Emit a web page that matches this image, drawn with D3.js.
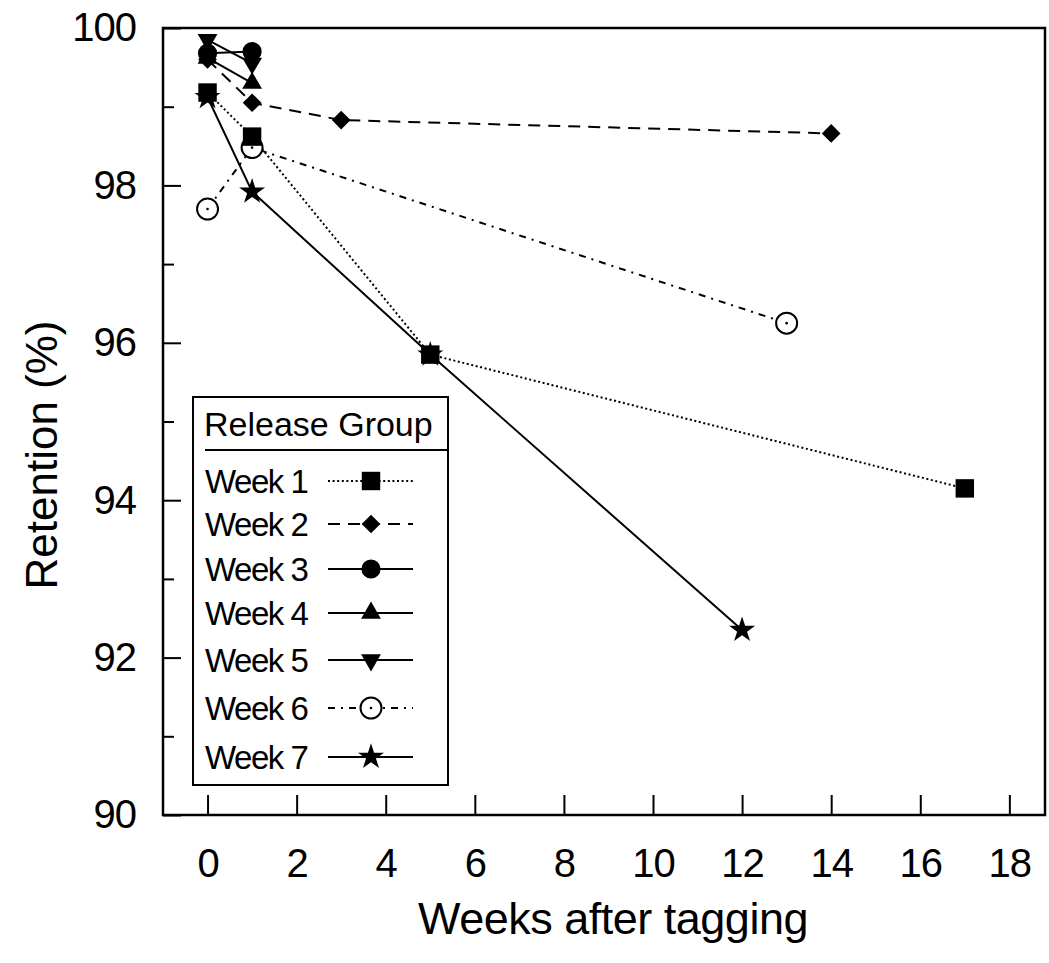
<!DOCTYPE html>
<html>
<head>
<meta charset="utf-8">
<script src="https://cdn.jsdelivr.net/npm/d3@7"></script>
<style>
    body { margin: 0; background: #fff; }
    svg { font-family: "Liberation Sans", Arial, sans-serif; }
</style>
</head>
<body>
<svg id="chart" width="1049" height="963"></svg>
<script>
(function () {

    // Data (weeks after tagging, retention %)
    const groups = ["Week 1", "Week 2", "Week 3", "Week 4", "Week 5", "Week 6", "Week 7"];
    const week1 = [[0, 99.18], [1, 98.62], [5, 95.85], [17, 94.15]];
    const week2 = [[0, 99.6], [1, 99.05], [3, 98.83], [14, 98.66]];
    const week3 = [[0, 99.68], [1, 99.7]];
    const week4 = [[0, 99.62], [1, 99.3]];
    const week5 = [[0, 99.85], [1, 99.55]];
    const week6 = [[0, 97.7], [1, 98.48], [13, 96.25]];
    const week7 = [[0, 99.12], [1, 97.92], [5, 95.85], [12, 92.35]];
    const xTicks = [0, 2, 4, 6, 8, 10, 12, 14, 16, 18];
    const yTicks = [90, 92, 94, 96, 98, 100];
    const yMinor = [91, 93, 95, 97, 99];

    const seriesData = [week1, week2, week3, week4, week5, week6, week7];

    // Line + marker styles per group
    const styles = [
        { dash: "2,2.6", symbol: "square" },
        { dash: "12,8", symbol: "diamond" },
        { dash: null, symbol: "circle" },
        { dash: null, symbol: "triangle" },
        { dash: null, symbol: "down" },
        { dash: "7,6,2,6", symbol: "open" },
        { dash: null, symbol: "star" }
    ];

    const svg = d3.select("#chart");

    const x = d3.scaleLinear().domain([-1, 18.8]).range([163, 1045]);
    const y = d3.scaleLinear().domain([90, 100]).range([815, 28]);

    // Frame
    svg.append("rect")
        .attr("x", x(-1)).attr("y", y(100))
        .attr("width", x(18.8) - x(-1))
        .attr("height", y(90) - y(100))
        .attr("fill", "none")
        .attr("stroke", "#000")
        .attr("stroke-width", 2.5);

    // X axis (ticks pointing inward)
    const xAxis = svg.append("g")
        .attr("transform", "translate(0," + y(90) + ")")
        .call(d3.axisBottom(x).tickValues(xTicks).tickSize(-20).tickPadding(62).tickFormat(d3.format("d")));
    xAxis.select(".domain").remove();
    xAxis.selectAll(".tick line").attr("stroke-width", 2);
    xAxis.selectAll(".tick text")
        .attr("font-size", 40)
        .attr("font-family", "Liberation Sans, Arial, sans-serif")
        .attr("letter-spacing", -1)
        .attr("fill", "#000")
        .attr("dy", "0");

    // Y axis major
    const yAxis = svg.append("g")
        .attr("transform", "translate(" + x(-1) + ",0)")
        .call(d3.axisLeft(y).tickValues(yTicks).tickSize(-18).tickPadding(27).tickFormat(d3.format("d")));
    yAxis.select(".domain").remove();
    yAxis.selectAll(".tick line").attr("stroke-width", 2);
    yAxis.selectAll(".tick text")
        .attr("font-size", 40)
        .attr("font-family", "Liberation Sans, Arial, sans-serif")
        .attr("letter-spacing", -1)
        .attr("fill", "#000");

    // Y axis minor
    const yAxisMinor = svg.append("g")
        .attr("transform", "translate(" + x(-1) + ",0)")
        .call(d3.axisLeft(y).tickValues(yMinor).tickSize(-11).tickFormat(""));
    yAxisMinor.select(".domain").remove();
    yAxisMinor.selectAll(".tick line").attr("stroke-width", 2);

    // Axis titles
    svg.append("text")
        .attr("x", 613).attr("y", 934)
        .attr("text-anchor", "middle")
        .attr("font-size", 45)
        .attr("letter-spacing", -0.5)
        .text("Weeks after tagging");

    svg.append("text")
        .attr("transform", "translate(57,455) rotate(-90)")
        .attr("text-anchor", "middle")
        .attr("font-size", 44)
        .text("Retention (%)");

    // Marker drawing
    const drawMarker = (g, kind, cx, cy) => {
        const t = "translate(" + cx + "," + cy + ")";
        if (kind === "square") {
            g.append("path").attr("d", d3.symbol(d3.symbolSquare, 340)()).attr("transform", t);
        } else if (kind === "diamond") {
            g.append("path").attr("d", d3.symbol(d3.symbolSquare, 175)()).attr("transform", t + " rotate(45)");
        } else if (kind === "circle") {
            g.append("path").attr("d", d3.symbol(d3.symbolCircle, 290)()).attr("transform", t);
        } else if (kind === "triangle") {
            g.append("path").attr("d", d3.symbol(d3.symbolTriangle, 170)()).attr("transform", t);
        } else if (kind === "down") {
            g.append("path").attr("d", d3.symbol(d3.symbolTriangle, 170)()).attr("transform", t + " rotate(180)");
        } else if (kind === "open") {
            g.append("circle").attr("cx", cx).attr("cy", cy).attr("r", 10.5)
                .attr("fill", "#fff").attr("stroke", "#000").attr("stroke-width", 2);
            g.append("circle").attr("cx", cx).attr("cy", cy).attr("r", 1.3).attr("fill", "#000");
        } else if (kind === "star") {
            g.append("path").attr("d", d3.symbol(d3.symbolStar, 210)()).attr("transform", t);
        }
    };

    const line = d3.line()
        .x((d) => x(d[0]))
        .y((d) => y(d[1]));

    // Lines first
    const linesG = svg.append("g");
    seriesData.forEach((data, i) => {
        linesG.append("path")
            .datum(data)
            .attr("d", line)
            .attr("fill", "none")
            .attr("stroke", "#000")
            .attr("stroke-width", 2)
            .attr("stroke-dasharray", styles[i].dash);
    });

    // Markers, drawn back to front so squares stay on top
    const markersG = svg.append("g").attr("fill", "#000");
    [6, 5, 4, 3, 2, 1, 0].forEach((i) => {
        seriesData[i].forEach((d) => {
            drawMarker(markersG, styles[i].symbol, x(d[0]), y(d[1]));
        });
    });

    // Legend
    const legend = svg.append("g");
    legend.append("rect")
        .attr("x", 193).attr("y", 397)
        .attr("width", 255).attr("height", 388)
        .attr("fill", "#fff")
        .attr("stroke", "#000")
        .attr("stroke-width", 2);
    legend.append("text")
        .attr("x", 204).attr("y", 436)
        .attr("font-size", 34)
        .text("Release Group");
    legend.append("line")
        .attr("x1", 205).attr("x2", 447)
        .attr("y1", 450).attr("y2", 450)
        .attr("stroke", "#000").attr("stroke-width", 2);

    const legendY = [481, 524, 569, 613, 660, 708, 757];
    groups.forEach((name, i) => {
        const ly = legendY[i];
        legend.append("text")
            .attr("x", 205).attr("y", ly + 12)
            .attr("font-size", 33)
            .attr("letter-spacing", -1.5)
            .text(name);
        legend.append("line")
            .attr("x1", 328).attr("x2", 413)
            .attr("y1", ly).attr("y2", ly)
            .attr("stroke", "#000")
            .attr("stroke-width", 2)
            .attr("stroke-dasharray", styles[i].dash);
        const mg = legend.append("g").attr("fill", "#000");
        drawMarker(mg, styles[i].symbol, 371, ly);
    });
})();
</script>
</body>
</html>
